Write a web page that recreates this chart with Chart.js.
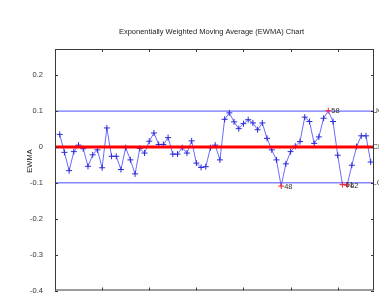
<!DOCTYPE html>
<html><head><meta charset="utf-8">
<script src="https://cdn.jsdelivr.net/npm/chart.js@4.4.1/dist/chart.umd.min.js"></script>
<style>html,body{margin:0;padding:0;background:#fff;overflow:hidden}canvas{display:block}</style>
</head><body>
<canvas id="c" width="379" height="299"></canvas>
<script>
// ---- data ----
const samples = [1,2,3,4,5,6,7,8,9,10,11,12,13,14,15,16,17,18,19,20,21,22,23,24,25,26,27,28,29,30,31,32,33,34,35,36,37,38,39,40,41,42,43,44,45,46,47,48,49,50,51,52,53,54,55,56,57,58,59,60,61,62,63,64,65,66,67];
const ewma = [0.035,-0.015,-0.066,-0.013,0.005,-0.005,-0.054,-0.022,-0.008,-0.058,
  0.053,-0.026,-0.026,-0.063,-0.002,-0.036,-0.075,-0.004,-0.017,0.016,
  0.039,0.007,0.007,0.026,-0.020,-0.020,-0.002,-0.017,0.017,-0.045,
  -0.057,-0.055,-0.002,0.005,-0.036,0.077,0.095,0.070,0.051,0.065,
  0.076,0.067,0.048,0.067,0.024,-0.008,-0.036,-0.109,-0.047,-0.013,
  0.002,0.015,0.083,0.071,0.010,0.028,0.080,0.101,0.071,-0.023,
  -0.105,-0.106,-0.051,0.001,0.031,0.031,-0.042];
const ucl = 0.1, cl = 0, lcl = -0.1;
const outOfControl = [48,58,61,62];
const xTicks = [0,10,20,30,40,50,60];
const yTicks = [-0.4,-0.3,-0.2,-0.1,0,0.1,0.2];
const xMin = 0, xMax = 67.7, yMin = -0.4, yMax = 0.273;
const titleText = 'Exponentially Weighted Moving Average (EWMA) Chart';
const yLabelText = 'EWMA';
const limitLabels = ['UCL','CL','LCL'];

const FONT = '"Liberation Sans", Arial, sans-serif';
const pts = samples.map((s,i)=>({x:s,y:ewma[i]}));
const markerColors = samples.map(s => outOfControl.includes(s) ? '#ff2020' : '#2a2ad8');
const hline = v => [{x:xMin,y:v},{x:xMax+1,y:v}];

const deco = {
  id:'deco',
  afterDraw(chart){
    const ctx = chart.ctx, a = chart.chartArea;
    const xs = chart.scales.x, ys = chart.scales.y;
    ctx.save();
    // box
    ctx.strokeStyle = '#3a3a3a'; ctx.lineWidth = 1;
    ctx.strokeRect(a.left+0.5, a.top+0.5, a.right-a.left-1, a.bottom-a.top-1);
    // inward ticks
    ctx.beginPath();
    xTicks.forEach(t=>{
      const x = Math.round(xs.getPixelForValue(t))+0.5;
      ctx.moveTo(x,a.bottom); ctx.lineTo(x,a.bottom-3);
      ctx.moveTo(x,a.top); ctx.lineTo(x,a.top+3);
    });
    yTicks.forEach(t=>{
      const y = Math.round(ys.getPixelForValue(t))+0.5;
      ctx.moveTo(a.left,y); ctx.lineTo(a.left+3,y);
      ctx.moveTo(a.right,y); ctx.lineTo(a.right-3,y);
    });
    ctx.stroke();
    // title
    ctx.fillStyle = '#222';
    ctx.font = '7.5px ' + FONT;
    ctx.textAlign = 'center'; ctx.textBaseline = 'middle';
    ctx.fillText(titleText, (a.left+a.right)/2 - 3, 31.5);
    // y label
    ctx.save();
    ctx.translate(30, 161);
    ctx.rotate(-Math.PI/2);
    ctx.fillText(yLabelText, 0, 0);
    ctx.restore();
    // out-of-control labels
    ctx.fillStyle = '#333';
    ctx.textAlign = 'left';
    outOfControl.forEach(s=>{
      const i = samples.indexOf(s);
      ctx.fillText(String(s), xs.getPixelForValue(s)+3, ys.getPixelForValue(ewma[i])+0.5);
    });
    // limit labels at right edge
    [ucl,cl,lcl].forEach((v,i)=>{
      ctx.fillText(limitLabels[i], a.right-1.5, ys.getPixelForValue(v));
    });
    ctx.restore();
  }
};

new Chart(document.getElementById('c'), {
  type:'scatter',
  data:{datasets:[
    {data:hline(cl), showLine:true, borderColor:'#ff0000', borderWidth:3, pointRadius:0, order:0},
    {data:pts, showLine:true, borderColor:'rgba(70,70,255,0.8)', borderWidth:1,
     pointStyle:'cross', pointRadius:3, pointBorderWidth:1, pointBorderColor:markerColors, order:1},
    {data:hline(ucl), showLine:true, borderColor:'#4c4cff', borderWidth:1, pointRadius:0, order:2},
    {data:hline(lcl), showLine:true, borderColor:'#4c4cff', borderWidth:1, pointRadius:0, order:2}
  ]},
  options:{
    responsive:false, animation:false, devicePixelRatio:1,
    layout:{padding:{top:49,right:1,left:0,bottom:0}},
    plugins:{legend:{display:false}, tooltip:{enabled:false}, title:{display:false}},
    scales:{
      x:{type:'linear', min:xMin, max:xMax,
        grid:{display:false}, border:{display:false},
        afterBuildTicks:s=>{s.ticks = xTicks.map(v=>({value:v}));},
        afterFit:s=>{s.height = 4;},
        ticks:{padding:1, color:'#333', font:{family:FONT, size:7.5}, maxRotation:0, autoSkip:false}},
      y:{type:'linear', min:yMin, max:yMax,
        grid:{display:false}, border:{display:false},
        afterBuildTicks:s=>{s.ticks = yTicks.map(v=>({value:v}));},
        afterFit:s=>{s.width = 55;},
        ticks:{padding:4, color:'#333', font:{family:FONT, size:7.5}, autoSkip:false,
          callback:v=>String(Math.round(v*10)/10)}}
    }
  },
  plugins:[deco]
});
</script>
</body></html>
